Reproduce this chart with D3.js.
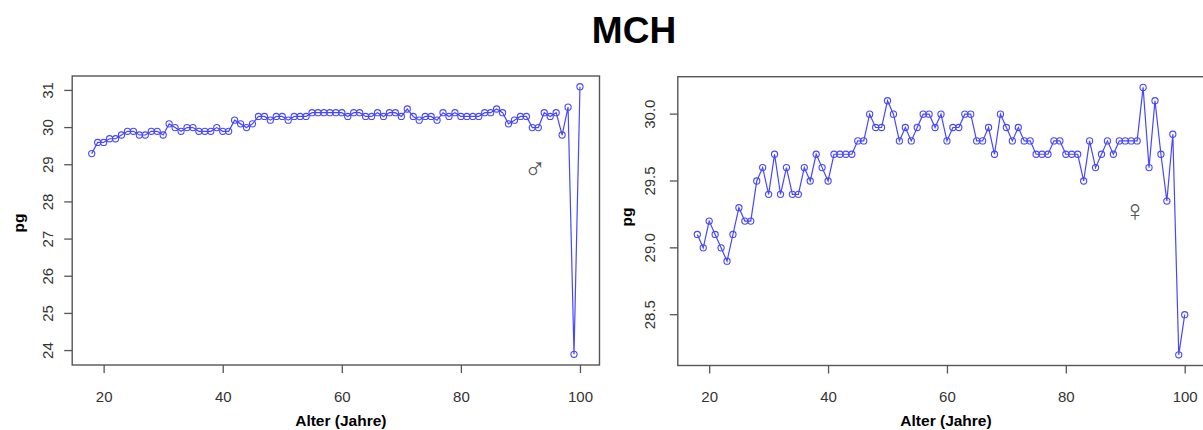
<!DOCTYPE html>
<html><head><meta charset="utf-8">
<script src="https://cdn.jsdelivr.net/npm/d3@7"></script>
<style>
html,body{margin:0;padding:0;background:#fff;}
svg{display:block;}
text{font-family:"Liberation Sans",Arial,sans-serif;}
</style></head>
<body>
<script>
const ages = [18,19,20,21,22,23,24,25,26,27,28,29,30,31,32,33,34,35,36,37,38,39,40,41,42,43,44,45,46,47,48,49,50,51,52,53,54,55,56,57,58,59,60,61,62,63,64,65,66,67,68,69,70,71,72,73,74,75,76,77,78,79,80,81,82,83,84,85,86,87,88,89,90,91,92,93,94,95,96,97,98,99,100];
const maleMCH = [29.3,29.6,29.6,29.7,29.7,29.8,29.9,29.9,29.8,29.8,29.9,29.9,29.8,30.1,30.0,29.9,30.0,30.0,29.9,29.9,29.9,30.0,29.9,29.9,30.2,30.1,30.0,30.1,30.3,30.3,30.2,30.3,30.3,30.2,30.3,30.3,30.3,30.4,30.4,30.4,30.4,30.4,30.4,30.3,30.4,30.4,30.3,30.3,30.4,30.3,30.4,30.4,30.3,30.5,30.3,30.2,30.3,30.3,30.2,30.4,30.3,30.4,30.3,30.3,30.3,30.3,30.4,30.4,30.5,30.4,30.1,30.2,30.3,30.3,30.0,30.0,30.4,30.3,30.4,29.8,30.55,23.9,31.1];
const femaleMCH = [29.1,29.0,29.2,29.1,29.0,28.9,29.1,29.3,29.2,29.2,29.5,29.6,29.4,29.7,29.4,29.6,29.4,29.4,29.6,29.5,29.7,29.6,29.5,29.7,29.7,29.7,29.7,29.8,29.8,30.0,29.9,29.9,30.1,30.0,29.8,29.9,29.8,29.9,30.0,30.0,29.9,30.0,29.8,29.9,29.9,30.0,30.0,29.8,29.8,29.9,29.7,30.0,29.9,29.8,29.9,29.8,29.8,29.7,29.7,29.7,29.8,29.8,29.7,29.7,29.7,29.5,29.8,29.6,29.7,29.8,29.7,29.8,29.8,29.8,29.8,30.2,29.6,30.1,29.7,29.35,29.85,28.2,28.5];
const xTicks = [20,40,60,80,100];
const maleYTicks = [24,25,26,27,28,29,30,31];
const femaleYTicks = [28.5,29.0,29.5,30.0];
const femaleYTickLabels = ["28.5","29.0","29.5","30.0"];
const title = "MCH";
const xTitle = "Alter (Jahre)";
const yTitle = "pg";

const W = 1203, H = 430;
const svg = d3.select("body").append("svg").attr("width", W).attr("height", H);

svg.append("text").attr("x", 634).attr("y", 43).attr("text-anchor","middle")
  .attr("font-size", 37).attr("font-weight","bold").attr("fill","#000").text(title);

function rPad(ext){ const d = (ext[1]-ext[0])*0.04; return [ext[0]-d, ext[1]+d]; }

const blue = "#4747ff";

function panel(cfg){
  const g = svg.append("g");
  const x = d3.scaleLinear().domain(rPad(d3.extent(ages))).range([cfg.left, cfg.right]);
  const y = d3.scaleLinear().domain(rPad(d3.extent(cfg.values))).range([cfg.bottom, cfg.top]);
  // box
  g.append("rect").attr("x", cfg.left).attr("y", cfg.top)
    .attr("width", cfg.right-cfg.left).attr("height", cfg.bottom-cfg.top)
    .attr("fill","none").attr("stroke","#555").attr("stroke-width",1.4);
  // x axis
  const xa = g.append("g").attr("transform",`translate(0,${cfg.bottom})`)
    .call(d3.axisBottom(x).tickValues(xTicks).tickSize(8).tickPadding(18).tickFormat(d3.format("d")));
  xa.select(".domain").remove();
  xa.selectAll("line").attr("stroke","#555").attr("stroke-width",1.3);
  xa.selectAll("text").attr("font-size",15).attr("fill","#333").attr("font-family",'"Liberation Sans",Arial,sans-serif');
  // y axis
  const ya = g.append("g").attr("transform",`translate(${cfg.left},0)`)
    .call(d3.axisLeft(y).tickValues(cfg.yTicks).tickSize(8).tickFormat((d,i)=>cfg.yLabels[i]));
  ya.select(".domain").remove();
  ya.selectAll(".tick").attr("transform", null);
  ya.selectAll(".tick line").attr("stroke","#555").attr("stroke-width",1.3)
    .each(function(d){ d3.select(this).attr("y1", y(d)).attr("y2", y(d)); });
  ya.selectAll(".tick text").attr("font-size",15).attr("fill","#333")
    .attr("font-family",'"Liberation Sans",Arial,sans-serif')
    .attr("text-anchor","middle").attr("x",null).attr("y",0).attr("dy","0.35em")
    .each(function(d){ d3.select(this).attr("transform", `translate(${cfg.yLabelX - cfg.left},${y(d)}) rotate(-90)`); });
  // titles
  g.append("text").attr("x", (cfg.left+cfg.right)/2 + 5).attr("y", 426).attr("text-anchor","middle")
    .attr("font-size",15.5).attr("font-weight","bold").attr("fill","#000").text(xTitle);
  g.append("text").attr("transform",`translate(${cfg.yTitleX},${cfg.yTitleY}) rotate(-90)`)
    .attr("text-anchor","middle").attr("dy","0.35em")
    .attr("font-size",15.5).attr("font-weight","bold").attr("fill","#000").text(yTitle);
  // data
  const pts = ages.map((a,i)=>[a, cfg.values[i]]);
  g.append("path").datum(pts)
    .attr("d", d3.line().x(d=>x(d[0])).y(d=>y(d[1])))
    .attr("fill","none").attr("stroke",blue).attr("stroke-width",1.2);
  g.selectAll("circle.pt").data(pts).join("circle").attr("class","pt")
    .attr("cx", d=>x(d[0])).attr("cy", d=>y(d[1])).attr("r", 3.1)
    .attr("fill","none").attr("stroke",blue).attr("stroke-width",1.1);
  // sex symbol
  g.append("text").attr("x", cfg.symX).attr("y", cfg.symY).attr("text-anchor","middle")
    .attr("dy","0.35em").attr("font-size",30).attr("fill","#555")
    .attr("font-family",'"DejaVu Sans",sans-serif').text(cfg.sym);
}

panel({id:"m", left:72.2, right:599.5, top:76, bottom:365, values:maleMCH,
  yTicks:maleYTicks, yLabels:maleYTicks.map(String), yLabelX:48, yTitleX:19, yTitleY:223,
  sym:"\u2642", symX:535, symY:168});
panel({id:"f", left:677.8, right:1204.2, top:76.7, bottom:365.5, values:femaleMCH,
  yTicks:femaleYTicks, yLabels:femaleYTickLabels, yLabelX:650, yTitleX:627, yTitleY:217,
  sym:"\u2640", symX:1135, symY:210});
</script>
</body></html>
